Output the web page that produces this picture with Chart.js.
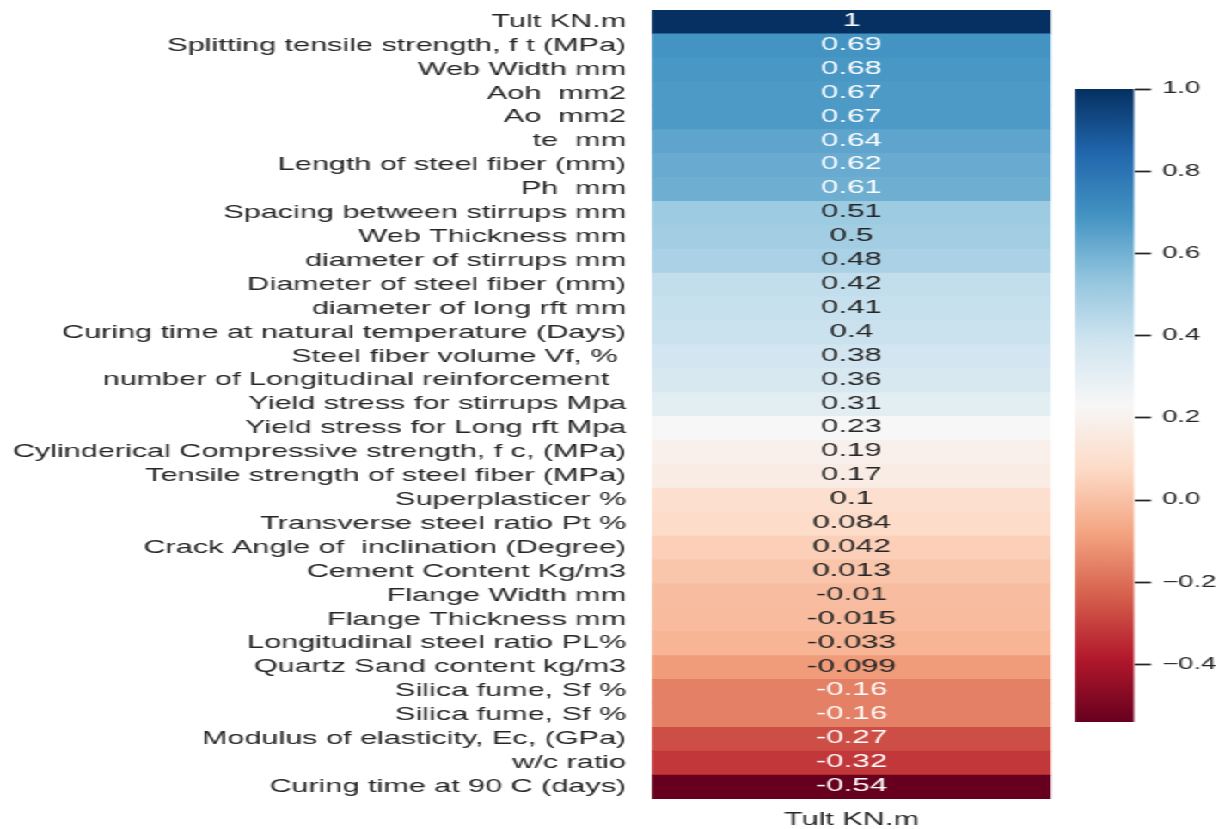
<!DOCTYPE html>
<html>
<head>
<meta charset="utf-8">
<title>Correlation with Tult KN.m</title>
<script src="https://cdn.jsdelivr.net/npm/chart.js@4.4.0/dist/chart.umd.min.js"></script>
<style>
  html, body { margin: 0; padding: 0; background: #ffffff; overflow: hidden; }
  /* The figure is drawn on a narrow canvas and widened horizontally */
  #stage { position: absolute; left: 0; top: 0; width: 716px; height: 829px;
           transform: scaleX(1.7193); transform-origin: 0 0; }
  #stage canvas { position: absolute; left: 0; top: 0; }
  #cbar { pointer-events: none; }
</style>
</head>
<body>
<div id="stage">
  <canvas id="heat" width="716" height="829"></canvas>
  <canvas id="cbar" width="716" height="829"></canvas>
</div>
<script>
// Feature names (rows of the heatmap), sorted by correlation with the target
const features = [
  'Tult KN.m',
  'Splitting tensile strength, f t (MPa)',
  'Web Width mm',
  'Aoh  mm2',
  'Ao  mm2',
  'te  mm',
  'Length of steel fiber (mm)',
  'Ph  mm',
  'Spacing between stirrups mm',
  'Web Thickness mm',
  'diameter of stirrups mm',
  'Diameter of steel fiber (mm)',
  'diameter of long rft mm',
  'Curing time at natural temperature (Days)',
  'Steel fiber volume Vf, % ',
  'number of Longitudinal reinforcement  ',
  'Yield stress for stirrups Mpa',
  'Yield stress for Long rft Mpa',
  'Cylinderical Compressive strength, f c, (MPa)',
  'Tensile strength of steel fiber (MPa)',
  'Superplasticer %',
  'Transverse steel ratio Pt %',
  'Crack Angle of  inclination (Degree)',
  'Cement Content Kg/m3',
  'Flange Width mm',
  'Flange Thickness mm',
  'Longitudinal steel ratio PL%',
  'Quartz Sand content kg/m3',
  'Silica fume, Sf %',
  'Silica fume, Sf %',
  'Modulus of elasticity, Ec, (GPa)',
  'w/c ratio',
  'Curing time at 90 C (days)'
];

// Correlation of each feature with Tult KN.m
const corrWithTult = [
  1, 0.69, 0.68, 0.67, 0.67, 0.64, 0.62, 0.61, 0.51, 0.5, 0.48,
  0.42, 0.41, 0.4, 0.38, 0.36, 0.31, 0.23, 0.19, 0.17, 0.1, 0.084,
  0.042, 0.013, -0.01, -0.015, -0.033, -0.099, -0.16, -0.16, -0.27,
  -0.32, -0.54
];

// Column name shown under the heatmap
const columnName = 'Tult KN.m';

// Colour bar tick values
const colorbarTicks = [1.0, 0.8, 0.6, 0.4, 0.2, 0.0, -0.2, -0.4];

const vmin = Math.min(...corrWithTult);
const vmax = Math.max(...corrWithTult);

// RdBu diverging palette anchors (low -> high)
const rdbu = [
  [103, 0, 31], [178, 24, 43], [214, 96, 77], [244, 165, 130], [253, 219, 199],
  [247, 247, 247], [209, 229, 240], [146, 197, 222], [67, 147, 195], [33, 102, 172],
  [5, 48, 97]
];

function rgbFor(v) {
  let t = (v - vmin) / (vmax - vmin);
  t = Math.max(0, Math.min(1, t));
  const pos = t * (rdbu.length - 1);
  const i = Math.min(Math.floor(pos), rdbu.length - 2);
  const f = pos - i;
  return rdbu[i].map((c, k) => Math.round(c + (rdbu[i + 1][k] - c) * f));
}
const rgbStr = c => `rgb(${c[0]},${c[1]},${c[2]})`;

function luminance(rgb) {
  const c = rgb.map(v => {
    v /= 255;
    return v <= 0.03928 ? v / 12.92 : Math.pow((v + 0.055) / 1.055, 2.4);
  });
  return 0.2126 * c[0] + 0.7152 * c[1] + 0.0722 * c[2];
}
const textColorFor = v => (luminance(rgbFor(v)) > 0.408 ? '#262626' : '#ffffff');

// two significant digits, like the ".2g" format
const fmt = v => String(Number(v.toPrecision(2)));
const tickFmt = v => (v < 0 ? '\u2212' : '') + Math.abs(v).toFixed(1);

const FONT = '"Liberation Sans", Arial, Helvetica, sans-serif';
const INK = '#262626';

// Writes each cell's value in the middle of its cell
const cellLabels = {
  id: 'cellLabels',
  afterDatasetsDraw(chart) {
    const ctx = chart.ctx;
    const meta = chart.getDatasetMeta(0);
    ctx.save();
    ctx.font = `18.3px ${FONT}`;
    ctx.textAlign = 'center';
    ctx.textBaseline = 'middle';
    meta.data.forEach((bar, i) => {
      const v = corrWithTult[i];
      const p = bar.getProps(['x', 'y', 'base'], true);
      ctx.fillStyle = textColorFor(v);
      ctx.fillText(fmt(v), (p.x + p.base) / 2, p.y - 1);
    });
    ctx.restore();
  }
};

// Heatmap: one full-width cell per feature
new Chart(document.getElementById('heat'), {
  type: 'bar',
  data: {
    labels: features,
    datasets: [{
      data: features.map(() => [0, 1]),
      backgroundColor: corrWithTult.map(v => rgbStr(rgbFor(v))),
      borderWidth: 0,
      barPercentage: 1,
      categoryPercentage: 1
    }]
  },
  options: {
    indexAxis: 'y',
    responsive: false,
    animation: false,
    devicePixelRatio: 1,
    layout: { padding: { left: 0, right: 716 - 611.3, top: 10, bottom: 0 } },
    plugins: { legend: { display: false }, tooltip: { enabled: false } },
    scales: {
      y: {
        type: 'category',
        grid: { display: false, drawTicks: false },
        border: { display: false },
        ticks: { color: INK, font: { family: FONT, size: 17.8 }, padding: 15, autoSkip: false },
        afterFit(s) { s.width = 379.2; s.paddingTop = 0; s.paddingBottom = 0; }
      },
      x: {
        type: 'linear',
        min: 0,
        max: 1,
        grid: { display: false, drawTicks: false },
        border: { display: false },
        afterBuildTicks(s) { s.ticks = [{ value: 0.5 }]; },
        ticks: {
          callback: () => columnName,
          color: INK,
          font: { family: FONT, size: 17.8 },
          padding: 10,
          maxRotation: 0,
          autoSkip: false
        },
        afterFit(s) { s.height = 30; s.paddingLeft = 0; s.paddingRight = 0; }
      }
    }
  },
  plugins: [cellLabels]
});

// Colour bar: one bar spanning the data range, filled with the palette
new Chart(document.getElementById('cbar'), {
  type: 'bar',
  data: {
    labels: [''],
    datasets: [{
      data: [[vmin, vmax]],
      backgroundColor(c) {
        const chart = c.chart;
        if (!chart.chartArea) return rgbStr(rdbu[5]);
        const ys = chart.scales.y;
        const g = chart.ctx.createLinearGradient(0, ys.getPixelForValue(vmin), 0, ys.getPixelForValue(vmax));
        rdbu.forEach((col, i) => g.addColorStop(i / (rdbu.length - 1), rgbStr(col)));
        return g;
      },
      borderWidth: 0,
      barPercentage: 1,
      categoryPercentage: 1
    }]
  },
  options: {
    responsive: false,
    animation: false,
    devicePixelRatio: 1,
    layout: { padding: { left: 625.2, right: 716 - 659.6 - 50, top: 89, bottom: 829 - 722 } },
    plugins: { legend: { display: false }, tooltip: { enabled: false } },
    scales: {
      x: { display: false },
      y: {
        position: 'right',
        min: vmin,
        max: vmax,
        afterBuildTicks(s) { s.ticks = colorbarTicks.map(v => ({ value: v })); },
        grid: { display: true, drawOnChartArea: false, drawTicks: true, tickLength: 9.9, tickWidth: 1.8, tickColor: INK },
        border: { display: false },
        ticks: { padding: 6.4, callback: v => tickFmt(v), color: INK, font: { family: FONT, size: 16 } },
        afterFit(s) { s.width = 50; }
      }
    }
  }
});
</script>
</body>
</html>
